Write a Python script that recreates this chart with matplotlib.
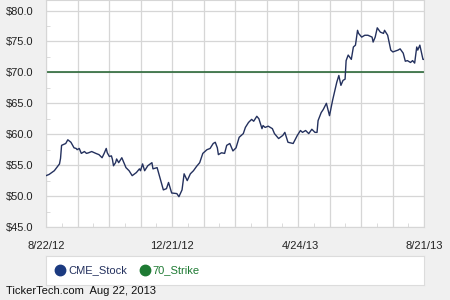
import numpy as np
import matplotlib
matplotlib.use("Agg")
import matplotlib.pyplot as plt
from matplotlib.lines import Line2D

plt.rcParams['font.family'] = ['Liberation Sans', 'DejaVu Sans']

# days since 8/22/12 and closing price
days = [0, 3, 8, 13, 14, 15, 19, 21, 24, 27, 29, 30, 32, 34, 37, 39, 41, 44, 48, 51,
        54, 56, 58, 59, 61, 63, 64, 65, 67, 68, 70, 73, 75, 77, 80, 83, 87, 90, 91, 93,
        95, 98, 102, 103, 107, 110, 113, 116, 118, 121, 126, 128, 131, 133, 136, 139, 142, 145, 148, 151,
        155, 158, 161, 163, 165, 166, 169, 172, 174, 177, 180, 183, 186, 190, 192, 195, 198, 200, 203, 205,
        208, 209, 211, 214, 218, 220, 224, 228, 230, 233, 238, 242, 245, 247, 250, 253, 256, 259, 261, 262,
        265, 267, 270, 273, 276, 280, 282, 284, 286, 288, 289, 291, 294, 296, 298, 300, 301, 304, 307, 310,
        314, 315, 317, 319, 322, 325, 326, 329, 332, 334, 339, 341, 344, 346, 348, 351, 353, 355, 357, 358,
        360, 363, 364]
price = [53.3, 53.5, 54.1, 55.2, 56.1, 58.2, 58.5, 59.1, 58.7, 57.8, 57.7, 57.5, 57.7, 56.9, 57.2, 56.9, 57.0, 57.2, 56.9, 56.7,
         56.2, 56.9, 57.7, 57.0, 56.4, 56.5, 55.9, 54.9, 55.4, 56.0, 55.4, 56.2, 55.4, 54.6, 54.1, 53.3, 53.8, 54.4, 54.1, 55.2,
         54.1, 54.9, 55.4, 54.4, 54.6, 52.8, 51.0, 51.2, 52.2, 50.5, 50.4, 49.9, 51.0, 53.6, 52.5, 53.6, 54.1, 54.8, 55.4, 56.9,
         57.5, 57.7, 58.5, 58.7, 57.8, 56.7, 57.0, 56.9, 58.2, 58.5, 57.3, 57.8, 59.5, 60.1, 61.1, 61.9, 62.4, 62.1, 62.9, 62.5,
         60.9, 61.4, 61.1, 61.3, 60.9, 60.1, 59.3, 59.8, 60.3, 58.7, 58.5, 59.8, 60.6, 60.3, 60.6, 60.1, 60.8, 60.3, 60.3, 62.2,
         63.5, 64.0, 65.0, 63.0, 65.5, 68.4, 69.5, 67.9, 68.7, 68.9, 71.9, 72.8, 72.1, 74.1, 74.4, 76.8, 76.3, 75.7, 76.0, 76.0,
         75.7, 74.9, 75.7, 77.2, 76.5, 76.3, 76.8, 76.0, 73.6, 73.3, 73.6, 73.8, 73.1, 71.8, 71.9, 71.6, 71.9, 71.5, 74.1, 73.6,
         74.4, 72.1, 72.1]
strike = 70.0

xtick_days = [0, 121, 245, 364]
xtick_labels = ['8/22/12', '12/21/12', '4/24/13', '8/21/13']
yticks = [45, 50, 55, 60, 65, 70, 75, 80]

stock_col = '#24315e'
strike_col = '#1d5e2a'
grid_col = '#d6d6d6'
bg = '#f0f0f0'

fig = plt.figure(figsize=(4.5, 3), dpi=100, facecolor=bg)
ax = fig.add_axes([46/450, 1-227/300, 378/450, 227/300])
ax.set_facecolor('white')

ax.plot(days, price, color=stock_col, lw=1.0, zorder=3)
ax.axhline(strike, color=strike_col, lw=1.1, zorder=2)

ax.set_xlim(0, 364)
ax.set_ylim(45, 81.7)
ax.set_yticks(yticks)
ax.set_yticklabels(['$%.1f' % v for v in yticks])
ax.set_yticks(np.arange(47.5, 81, 5), minor=True)
ax.set_xticks(xtick_days)
ax.set_xticklabels(xtick_labels)
ax.set_xticks(np.linspace(0, 364, 25)[1::2], minor=True)

# vertical grid every month-ish
for g in np.linspace(0, 364, 13):
    ax.axvline(g, color=grid_col, lw=0.9, zorder=1)
for v in yticks:
    ax.axhline(v, color=grid_col, lw=0.9, zorder=1)

ax.tick_params(axis='both', which='major', length=0, labelsize=8, colors='#222222')
ax.tick_params(axis='x', which='major', pad=10)
ax.tick_params(axis='y', which='major', pad=9)
ax.tick_params(axis='both', which='minor', direction='in', length=3, color=grid_col)
for s in ax.spines.values():
    s.set_color(grid_col)
    s.set_linewidth(0.8)

# legend box
lax = fig.add_axes([46/450, 1-285/300, 378/450, 29/300])
lax.set_facecolor('white')
lax.set_xticks([])
lax.set_yticks([])
for s in lax.spines.values():
    s.set_color('#dcdcdc')
handles = [Line2D([], [], ls='', marker='o', ms=7.5, color='#1b3a80', label='CME_Stock'),
           Line2D([], [], ls='', marker='o', ms=7.5, color='#1e7a33', label='70_Strike')]
leg = lax.legend(handles=handles, loc='center left', bbox_to_anchor=(0.0, 0.5), ncol=2,
                 frameon=False, fontsize=8, handletextpad=0.1, columnspacing=1.0,
                 borderaxespad=0.3, handlelength=1.2)
leg.get_texts()[0].set_color('#24315e')
leg.get_texts()[1].set_color('#1e7a33')

fig.text(6/450, 1-291/300, 'TickerTech.com  Aug 22, 2013', fontsize=8, color='#111111', va='center')

fig.savefig('out.png', dpi=100, facecolor=bg)
